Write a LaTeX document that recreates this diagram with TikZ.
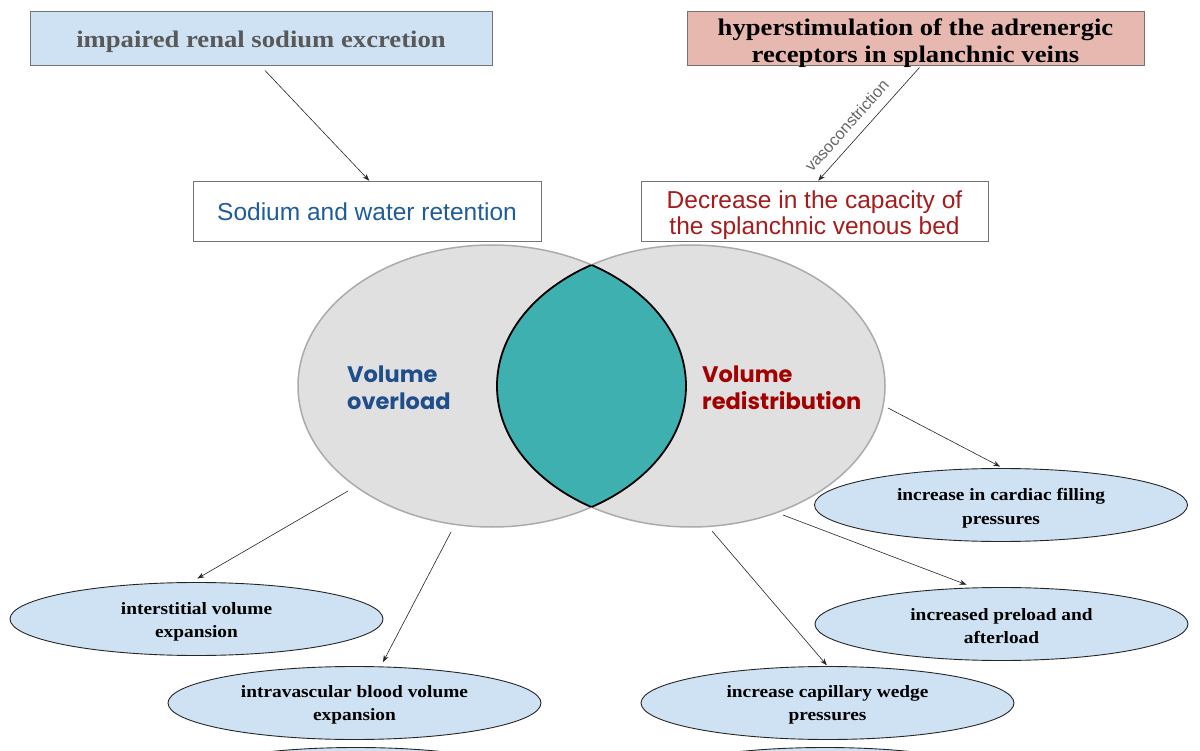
\documentclass[tikz,border=0pt]{standalone}
\usepackage{fontspec}
\setmainfont{Liberation Serif}[FakeStretch=1.12]
\setsansfont{Liberation Sans}
\newfontfamily\vennfont{Poppins}
\usetikzlibrary{arrows.meta,shapes.geometric,calc}
\definecolor{boxblue}{HTML}{CFE2F3}
\definecolor{boxred}{HTML}{E6B8AF}
\definecolor{txtgray}{HTML}{595959}
\definecolor{txtblue}{HTML}{1F5C99}
\definecolor{txtred}{HTML}{A61C1C}
\definecolor{vennfill}{HTML}{E0E0E0}
\definecolor{vennline}{HTML}{ABABAB}
\definecolor{lens}{HTML}{3FB0B0}
\definecolor{ovblue}{HTML}{1F4E8C}
\definecolor{redist}{HTML}{A30000}
\tikzset{
  topbox/.style={draw=black!55, line width=1pt, minimum height=54pt, inner sep=0pt},
  toptxt/.style={font=\bfseries\fontsize{23.8}{27}\selectfont, align=center, inner sep=0pt},
  midbox/.style={draw=black!55, fill=white, line width=1pt, minimum height=60pt, inner sep=0pt},
  midtxt/.style={font=\sffamily\fontsize{24.5}{26.5}\selectfont, align=center, inner sep=0pt},
  oval/.style={ellipse, draw=black!85, fill=boxblue, line width=0.9pt, minimum width=373pt,
    minimum height=73pt, inner sep=0pt},
  ovtxt/.style={font=\bfseries\fontsize{17.3}{23.5}\selectfont, align=center, inner sep=0pt},
  arr/.style={-{Stealth[length=7pt,width=5pt]}, line width=0.6pt, black!85, shorten >=1pt},
  venntxt/.style={font=\vennfont\bfseries\fontsize{22.5}{27}\selectfont, align=left, anchor=west, inner sep=0pt},
  vennel/.style={fill=vennfill, draw=vennline, line width=1.5pt}
}
\begin{document}
\begin{tikzpicture}[x=1pt,y=-1pt]
\useasboundingbox (0,0) rectangle (1200,751);
\fill[white] (0,0) rectangle (1200,751);
% top boxes
\node[topbox, fill=boxblue, minimum width=462pt] (irse) at (261,39) {};
\node[toptxt, text=txtgray] (irset) at ([yshift=-3pt]irse.center) {impaired renal sodium excretion};
\node[topbox, fill=boxred, minimum width=457pt] (hyper) at (915.5,39) {};
\node[toptxt, text=black] (hypert) at ([yshift=-4pt]hyper.center) {hyperstimulation of the adrenergic\\receptors in splanchnic veins};
% middle boxes
\node[midbox, minimum width=348pt] (swr) at (367,212) {};
\node[midtxt, text=txtblue] (swrt) at (swr.center) {Sodium and water retention};
\node[midbox, minimum width=347pt] (dec) at (814.5,212) {};
\node[midtxt, text=txtred] (dect) at ([yshift=-3pt]dec.center) {Decrease in the capacity of\\the splanchnic venous bed};
\draw[arr] ([xshift=4pt,yshift=-4pt]irse.south) -- ([xshift=3pt]swr.north);
\draw[arr] ([xshift=4pt,yshift=-1pt]hyper.south) -- ([xshift=3pt]dec.north)
  node[pos=0.6, sloped, above=6pt, font=\sffamily\fontsize{16.3}{16.3}\selectfont, text=black!60] {vasoconstriction};
% Venn
\path[vennel] (492,386) ellipse [x radius=194pt, y radius=141pt];
\path[vennel] (691,386) ellipse [x radius=194pt, y radius=141pt];
\begin{scope}
  \clip (492,386) ellipse [x radius=194pt, y radius=141pt];
  \fill[lens] (691,386) ellipse [x radius=194pt, y radius=141pt];
  \draw[black, line width=1.8pt] (691,386) ellipse [x radius=194pt, y radius=141pt];
\end{scope}
\begin{scope}
  \clip (691,386) ellipse [x radius=194pt, y radius=141pt];
  \draw[black, line width=1.8pt] (492,386) ellipse [x radius=194pt, y radius=141pt];
\end{scope}
\node[venntxt, text=ovblue] (vo) at (347,388) {Volume\\overload};
\node[venntxt, text=redist] (vr) at (702,388) {Volume\\redistribution};
% outcome ellipses
\node[oval] (e1) at (1001,505) {};
\node[ovtxt] (e1t) at ([yshift=-3pt]e1.center) {increase in cardiac filling\\pressures};
\node[oval] (e2) at (1001.5,624) {};
\node[ovtxt] (e2t) at ([yshift=-2pt]e2.center) {increased preload and\\afterload};
\node[oval] (e3) at (827.5,703) {};
\node[ovtxt] (e3t) at ([yshift=-2pt]e3.center) {increase capillary wedge\\pressures};
\node[oval] (e4) at (196.5,619) {};
\node[ovtxt] (e4t) at ([yshift=-3pt]e4.center) {interstitial volume\\expansion};
\node[oval] (e5) at (354.5,703) {};
\node[ovtxt] (e5t) at ([yshift=-2pt]e5.center) {intravascular blood volume\\expansion};
% partially visible ellipses at bottom edge
\begin{scope}
  \clip (0,0) rectangle (1200,751);
  \node[oval] (s1) at (356,784) {};
  \node[oval] (s2) at (825,784) {};
\end{scope}
% arrows from the Venn
\coordinate (a3s) at (348,491);
\coordinate (a4s) at (451,532);
\coordinate (a5s) at (888,408);
\coordinate (a6s) at (783,515);
\coordinate (a7s) at (712,531);
\draw[arr] (a3s) -- ([yshift=3pt]e4.north);
\draw[arr] (a4s) -- ([xshift=28pt,yshift=3pt]e5.north);
\draw[arr] (a5s) -- ([yshift=1pt]e1.north);
\draw[arr] (a6s) -- ([xshift=-34pt,yshift=2pt]e2.north);
\draw[arr] (a7s) -- (e3.north);
\end{tikzpicture}
\end{document}
